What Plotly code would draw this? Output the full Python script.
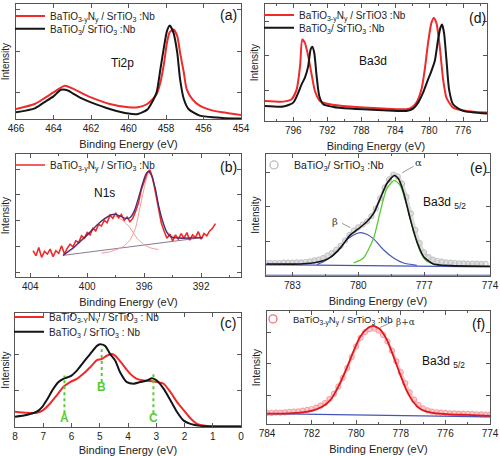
import plotly.graph_objects as go

W, H = 500, 456
FONT = "Arial, 'Liberation Sans', sans-serif"
RED = "#ee2a2a"
BLACK = "#151515"
FRAME = "#555555"
GREEN = "#55cc33"
BLUE = "#4455bb"

# ---------------- data ----------------
# (a) Ti2p
ti_black_x = [466, 465, 464.5, 464, 463.6, 463.2, 463, 462.5, 462, 461, 460, 459.5, 459, 458.7, 458.5,
              458.3, 458.1, 457.95, 457.8, 457.6, 457.4, 457.25, 457.05, 456.8, 456.2, 455, 454]
ti_black_y = [21, 33, 51, 69, 89, 86, 79, 63, 51, 31, 17, 16, 29, 56, 81,
              151, 221, 266, 283, 261, 201, 121, 61, 31, 11, 4, 2]
ti_red_x = [466, 465, 464.5, 464, 463.4, 463, 462.5, 462, 461, 460, 459.5, 459, 458.7, 458.5,
            458.3, 458.1, 457.95, 457.8, 457.6, 457.4, 457.25, 457.05, 456.9, 456.6, 456.2, 455.5, 455, 454]
ti_red_y = [31, 46, 63, 81, 101, 93, 79, 66, 46, 36, 36, 46, 61, 76,
            111, 171, 231, 263, 271, 251, 201, 141, 91, 61, 41, 26, 21, 13]

# (b) N1s
n_x = [403.8, 403.6, 403.4, 403.2, 403.0, 402.8, 402.6, 402.4, 402.2, 402.0, 401.8, 401.6, 401.4,
       401.2, 401.0, 400.8, 400.6, 400.4, 400.2, 400.0, 399.8, 399.6, 399.4, 399.2, 399.0, 398.8,
       398.6, 398.4, 398.2, 398.0, 397.8, 397.6, 397.4, 397.2, 397.0, 396.8, 396.6, 396.4, 396.2,
       396.0, 395.8, 395.6, 395.4, 395.2, 395.0, 394.8, 394.6, 394.4, 394.2, 394.0, 393.8, 393.6,
       393.4, 393.2, 393.0, 392.8, 392.6, 392.4, 392.2, 392.0, 391.8, 391.6, 391.4, 391.2, 391.0]
n_y = [80, 65, 90, 60, 78, 70, 85, 62, 80, 72, 95, 70, 88, 100, 92, 110, 105, 125, 118, 135,
       128, 148, 140, 160, 155, 172, 165, 188, 178, 195, 180, 190, 172, 182, 168, 178, 200, 225,
       265, 290, 315, 325, 300, 255, 205, 165, 140, 118, 130, 110, 128, 115, 132, 118, 135, 112,
       128, 120, 138, 115, 132, 125, 140, 148, 162]
n_bg_x = [401.7, 391.9]
n_bg_y = [66, 120]
n_broad_x = [401.7, 401.0, 400.5, 400.0, 399.5, 399.0, 398.5, 398.2, 398.0, 397.5, 397.0, 396.5, 396.0, 395.5, 395.0]
n_broad_y = [66, 85, 105, 125, 148, 168, 182, 186, 185, 172, 150, 118, 98, 88, 84]
n_narrow_x = [399.0, 398.5, 397.5, 397.0, 396.6, 396.3, 396.0, 395.8, 395.65, 395.5, 395.2, 395.0, 394.7, 394.4, 394.0, 393.0, 392.0]
n_narrow_y = [73, 76, 92, 112, 150, 210, 270, 305, 315, 305, 260, 215, 165, 138, 125, 118, 120]
n_sum_x = [401.7, 401.0, 400.5, 400.0, 399.5, 399.0, 398.5, 398.2, 398.0, 397.7, 397.3, 397.0, 396.7,
           396.4, 396.1, 395.9, 395.7, 395.5, 395.2, 395.0, 394.7, 394.4, 394.1, 393.5, 392.5, 391.9]
n_sum_y = [66, 88, 108, 128, 150, 170, 185, 190, 190, 185, 178, 180, 200,
           240, 285, 310, 320, 310, 265, 220, 170, 135, 122, 118, 119, 120]

# (c) valence band
vb_black_x = [8.0, 7.59, 7.23, 7.05, 6.88, 6.64, 6.46, 6.29, 6.05, 5.81, 5.58, 5.34, 5.10, 4.99, 4.81, 4.63,
              4.45, 4.28, 4.04, 3.80, 3.57, 3.33, 3.15, 2.98, 2.74, 2.50, 2.27, 2.03, 1.79, 1.44, 0.85, 0.0]
vb_black_y = [32, 37, 47, 60, 82, 117, 137, 147, 154, 172, 197, 222, 247, 252, 247, 222,
              202, 167, 137, 132, 137, 142, 149, 142, 117, 82, 47, 20, 10, 4, 2, 2]
vb_red_x = [8.0, 7.59, 7.23, 7.0, 6.76, 6.52, 6.29, 6.05, 5.81, 5.58, 5.34, 5.10, 4.93, 4.75, 4.57,
            4.39, 4.16, 3.92, 3.69, 3.45, 3.21, 2.98, 2.74, 2.50, 2.27, 2.03, 1.79, 1.56, 1.20, 0.0]
vb_red_y = [47, 44, 44, 52, 72, 97, 122, 137, 147, 162, 182, 204, 207, 217, 222,
            212, 187, 162, 147, 142, 140, 137, 132, 107, 77, 52, 27, 10, 4, 2]
vb_marks = ["A", "B", "C"]
vb_mark_x = [6.25, 4.93, 3.1]
vb_mark_lo = [42, 137, 42]
vb_mark_hi = [157, 237, 164]
vb_mark_label_y = [28, 122, 27]

# (d) Ba3d
ba_red_x = [799.33, 797.18, 796.2, 795.6, 795.2, 794.94, 794.63, 794.24, 793.84, 793.45, 792.86, 791.69,
            789.33, 785.41, 782.67, 782.08, 781.49, 780.9, 780.51, 780.12, 779.73, 779.45, 779.14,
            778.75, 778.35, 777.96, 777.18, 775.6, 773.18]
ba_red_y = [61, 59, 66, 96, 166, 246, 236, 196, 141, 91, 61, 51, 44, 38, 36, 41, 56, 96, 156, 236,
            296, 311, 296, 226, 126, 71, 41, 31, 26]
ba_black_x = [799.33, 797.18, 796.0, 795.41, 795.02, 794.63, 794.24, 793.96, 793.76, 793.53, 793.25,
              792.94, 792.47, 791.29, 789.33, 785.41, 782.67, 781.88, 781.29, 780.71, 780.12, 779.73,
              779.33, 778.94, 778.67, 778.47, 778.24, 777.96, 777.65, 777.18, 776.0, 773.18]
ba_black_y = [46, 44, 56, 86, 111, 131, 166, 216, 224, 206, 136, 76, 51, 43, 38, 33, 31, 38, 56, 86,
              126, 151, 181, 246, 281, 291, 266, 186, 96, 51, 31, 23]

# (e) Ba3d5/2 BaTiO3 fit
e_data_x = [784.2, 784.0, 783.8, 783.6, 783.4, 783.2, 783.0, 782.8, 782.6, 782.4, 782.2, 782.0, 781.8,
            781.6, 781.4, 781.2, 781.0, 780.8, 780.6, 780.4, 780.2, 780.0, 779.8, 779.6, 779.4, 779.2,
            779.0, 778.8, 778.6, 778.4, 778.2, 778.0, 777.8, 777.6, 777.4, 777.2, 777.0, 776.8, 776.6,
            776.4, 776.2, 776.0, 775.8, 775.6, 775.4, 775.2, 775.0, 774.8, 774.6, 774.4, 774.2]
e_data_y = [40, 40, 40, 40, 41, 41, 41, 42, 42, 43, 45, 48, 50, 55, 62, 70, 80, 92, 108, 125,
            138, 148, 156, 166, 182, 205, 236, 268, 293, 308, 302, 280, 240, 190, 140, 100, 72, 58, 50, 46,
            44, 42, 41, 40, 39, 39, 38, 38, 38, 37, 37]
e_sum_x = [784.18, 782.64, 781.88, 781.27, 780.82, 780.36, 780.06, 779.61, 779.3, 779.0, 778.7, 778.36,
           778.17, 777.94, 777.64, 777.33, 777.03, 776.58, 775.82, 774.0]
e_sum_y = [37, 37, 42, 57, 85, 125, 140, 165, 190, 235, 280, 305, 295, 255, 175, 105, 60, 37, 32, 30]
e_alpha_x = [780.21, 779.76, 779.3, 779.0, 778.7, 778.36, 778.09, 777.79, 777.48, 777.18, 776.88, 776.42]
e_alpha_y = [40, 55, 115, 195, 265, 290, 275, 215, 135, 75, 45, 35]
e_beta_x = [781.88, 781.42, 780.97, 780.52, 780.21, 779.91, 779.61, 779.3, 778.85, 778.39, 777.94, 777.33]
e_beta_y = [35, 50, 75, 110, 125, 132, 127, 113, 80, 55, 40, 33]
e_bg_x = [784.2, 774.0]
e_bg_y = [35, 28]
e_zero_y = [3, 3]

# (f) Ba3d5/2 BaTiO3-yNy fit
f_data_x = [784.0, 783.8, 783.6, 783.4, 783.2, 783.0, 782.8, 782.6, 782.4, 782.2, 782.0, 781.8, 781.6,
            781.4, 781.2, 781.0, 780.8, 780.6, 780.4, 780.2, 780.0, 779.8, 779.6, 779.4, 779.2, 779.0,
            778.8, 778.6, 778.4, 778.2, 778.0, 777.8, 777.6, 777.4, 777.2, 777.0, 776.8, 776.6, 776.4,
            776.2, 776.0, 775.8, 775.6, 775.4, 775.2, 775.0, 774.8, 774.6, 774.4, 774.2, 774.0]
f_data_y = [34, 34, 35, 35, 36, 37, 38, 39, 41, 43, 46, 50, 56, 64, 76, 92, 114, 140, 170, 203,
            235, 261, 278, 287, 289, 283, 270, 250, 222, 190, 157, 124, 96, 74, 58, 48, 42, 38, 36, 35,
            34, 33, 33, 32, 32, 31, 31, 30, 30, 29, 29]
f_sum_x = [784.0, 783.28, 782.53, 781.93, 781.49, 781.11, 780.74, 780.44, 780.14, 779.84, 779.54, 779.24,
           778.94, 778.64, 778.34, 778.04, 777.74, 777.44, 777.14, 776.69, 775.8, 775.05, 774.0]
f_sum_y = [32, 32, 35, 42, 54, 77, 122, 167, 217, 262, 287, 297, 287, 257, 207, 152, 102, 67, 47, 36, 30, 28, 25]
f_bg_x = [784.0, 774.0]
f_bg_y = [32, 22]

LEG_A1 = "BaTiO<sub>3-y</sub>N<sub>y</sub> / SrTiO<sub>3</sub> :Nb"
LEG_A2 = "BaTiO<sub>3</sub>/ SrTiO<sub>3</sub> :Nb"
LEG_C1 = "BaTiO<sub>3-Y</sub>N<sub>Y</sub> / SrTiO<sub>3</sub> : Nb"
LEG_C2 = "BaTiO<sub>3</sub> / SrTiO<sub>3</sub> : Nb"
LEG_D1 = "BaTiO<sub>3-y</sub>N<sub>y</sub> / SrTiO3 :Nb"

# ---------------- layout geometry (pixels) ----------------
panels = {
    # name: (left, right, top, bottom)
    "a": (16, 241, 1, 117),
    "b": (16, 241, 152, 276),
    "c": (15, 241, 312, 427),
    "d": (265, 487, 1, 119),
    "e": (266, 490, 152, 275),
    "f": (267, 490, 310, 424),
}
axis_id = {"a": "", "b": "2", "c": "3", "d": "4", "e": "5", "f": "6"}

def px(x):
    return x / W

def py(y):
    return 1 - y / H

fig = go.Figure()

def add(panel, x, y, **kw):
    i = axis_id[panel]
    fig.add_trace(go.Scatter(x=x, y=y, xaxis="x" + i, yaxis="y" + i, **kw))

spl = dict(shape="spline", smoothing=0.6)

# (a)
add("a", ti_red_x, ti_red_y, mode="lines", name=LEG_A1, legend="legend",
    line=dict(color=RED, width=2, **spl))
add("a", ti_black_x, ti_black_y, mode="lines", name=LEG_A2, legend="legend2",
    line=dict(color=BLACK, width=2, **spl))

# (b)
add("b", n_bg_x, n_bg_y, mode="lines", showlegend=False, line=dict(color="#8a7a90", width=1))
add("b", n_broad_x, n_broad_y, mode="lines", showlegend=False, line=dict(color="#f49a9a", width=1, **spl))
add("b", n_narrow_x, n_narrow_y, mode="lines", showlegend=False, line=dict(color="#f49a9a", width=1, **spl))
add("b", n_x, n_y, mode="lines", name=LEG_A1, legend="legend3", line=dict(color=RED, width=1.6))
add("b", n_sum_x, n_sum_y, mode="lines", showlegend=False, line=dict(color="#4a2a70", width=1.3, **spl))

# (c)
add("c", vb_red_x, vb_red_y, mode="lines", name=LEG_C1, legend="legend4",
    line=dict(color=RED, width=2, **spl))
add("c", vb_black_x, vb_black_y, mode="lines", name=LEG_C2, legend="legend5",
    line=dict(color=BLACK, width=2, **spl))
for k in range(len(vb_marks)):
    add("c", [vb_mark_x[k], vb_mark_x[k]], [vb_mark_lo[k], vb_mark_hi[k]], mode="lines",
        showlegend=False, line=dict(color=GREEN, width=2, dash="dot"))
    fig.add_annotation(x=vb_mark_x[k], y=vb_mark_label_y[k], xref="x3", yref="y3",
                       text="<b>%s</b>" % vb_marks[k], showarrow=False,
                       font=dict(size=12, color=GREEN, family=FONT))

# (d)
add("d", ba_red_x, ba_red_y, mode="lines", name=LEG_D1, legend="legend6",
    line=dict(color=RED, width=2, **spl))
add("d", ba_black_x, ba_black_y, mode="lines", name=LEG_A2, legend="legend7",
    line=dict(color=BLACK, width=2, **spl))

# (e)
add("e", e_data_x, e_data_y, mode="lines+markers", showlegend=False,
    line=dict(color="#dcdcdc", width=3, **spl),
    marker=dict(symbol="circle-open", size=5, color="#c4c4c4", line=dict(width=1.2)))
add("e", [None], [None], mode="markers", name=LEG_A2, legend="legend8",
    marker=dict(symbol="circle-open", size=8, color="#bbbbbb", line=dict(width=1.3)))
add("e", e_bg_x, e_bg_y, mode="lines", showlegend=False, line=dict(color=BLUE, width=1.2))
add("e", e_bg_x, e_zero_y, mode="lines", showlegend=False, line=dict(color=BLUE, width=1))
add("e", e_beta_x, e_beta_y, mode="lines", showlegend=False, line=dict(color=BLUE, width=1.2, **spl))
add("e", e_alpha_x, e_alpha_y, mode="lines", showlegend=False, line=dict(color=GREEN, width=1.3, **spl))
add("e", e_sum_x, e_sum_y, mode="lines", showlegend=False, line=dict(color=BLACK, width=1.6, **spl))

# (f)
add("f", f_data_x, f_data_y, mode="lines+markers", showlegend=False,
    line=dict(color="#f8c8cc", width=3, **spl),
    marker=dict(symbol="circle-open", size=5, color="#f4a0a8", line=dict(width=1.2)))
add("f", [None], [None], mode="markers", name=LEG_A1, legend="legend9",
    marker=dict(symbol="circle-open", size=8, color="#f07080", line=dict(width=1.3)))
add("f", f_bg_x, f_bg_y, mode="lines", showlegend=False, line=dict(color=BLUE, width=1.2))
add("f", f_sum_x, f_sum_y, mode="lines", showlegend=False, line=dict(color="#e01818", width=1.8, **spl))

# ---------------- axes ----------------
xranges = {"a": [466, 454], "b": [405, 389.2], "c": [8, 0], "d": [799.33, 773.18],
           "e": [784.2, 774.0], "f": [784, 774]}
xdt = {"a": 2, "b": 4, "c": 1, "d": 4, "e": 3, "f": 2}
xminor = {"b": 2, "d": 2, "e": 1.5, "f": 1}
yranges = {"a": [0, 348], "b": [0, 373], "c": [0, 347], "d": [0, 353], "e": [0, 370], "f": [0, 342]}
yticks = {"a": (81, 125), "b": (15, 78), "c": (2, 110), "d": (-9.5, 103.5), "e": (0, 105), "f": (-8, 95)}

common = dict(showline=True, linecolor=FRAME, linewidth=1, mirror="ticks", ticks="inside",
              ticklen=4, tickcolor=FRAME, showgrid=False, zeroline=False, automargin=False)
for p, (l, r, t, b) in panels.items():
    i = axis_id[p]
    xa = dict(common, domain=[px(l), px(r)], range=xranges[p], dtick=xdt[p], tick0=0,
              anchor="y" + i, tickfont=dict(size=10, color="#222", family=FONT),
              title=dict(text="Binding Energy (eV)", standoff=7,
                         font=dict(size=11, color="#222", family=FONT)))
    if p in xminor:
        xa["minor"] = dict(dtick=xminor[p], ticks="inside", ticklen=2, tickcolor=FRAME)
    ya = dict(common, domain=[py(b), py(t)], range=yranges[p], tick0=yticks[p][0], dtick=yticks[p][1],
              anchor="x" + i, showticklabels=False,
              title=dict(text="Intensity", standoff=3, font=dict(size=10, color="#222", family=FONT)))
    fig.layout["xaxis" + i] = xa
    fig.layout["yaxis" + i] = ya

# ---------------- legends ----------------
def leg(xp, yp, size=10):
    return dict(x=px(xp), y=py(yp), xanchor="left", yanchor="middle", bgcolor="rgba(0,0,0,0)",
                borderwidth=0, font=dict(size=size, color="#222", family=FONT), itemclick=False)

fig.update_layout(
    legend=leg(10, 13), legend2=leg(10, 26), legend3=leg(10, 163),
    legend4=leg(9, 316), legend5=leg(9, 331), legend6=leg(259, 12), legend7=leg(259, 25),
    legend8=leg(254, 163, 10.5), legend9=leg(253, 318, 9.5),
)

# ---------------- text labels ----------------
def label(text, xp, yp, size=14, color="#111", xanchor="center"):
    fig.add_annotation(x=px(xp), y=py(yp), xref="paper", yref="paper", text=text, showarrow=False,
                       xanchor=xanchor, yanchor="middle", font=dict(size=size, color=color, family=FONT))

label("(a)", 228, 12)
label("(b)", 228, 165)
label("(c)", 228, 322)
label("(d)", 477, 15)
label("(e)", 478, 166)
label("(f)", 478, 323)
label("Ti2p", 122, 60, size=12)
label("N1s", 104, 191, size=12)
label("Ba3d", 373, 58, size=12)
label("Ba3d <sub>5/2</sub>", 421, 201, size=12, xanchor="left")
label("Ba3d <sub>5/2</sub>", 420, 361, size=12, xanchor="left")

# greek peak labels with leaders
fig.add_annotation(x=777.26, y=345, xref="x5", yref="y5", text="α", showarrow=False,
                   font=dict(size=10, color="#333", family="DejaVu Serif"))
fig.add_annotation(x=781.05, y=165, xref="x5", yref="y5", text="β", showarrow=False,
                   font=dict(size=10, color="#333", family="DejaVu Serif"))
fig.add_annotation(x=777.8, y=310, xref="x6", yref="y6", text="β+α", showarrow=False,
                   font=dict(size=9, color="#333", family="DejaVu Serif"))
fig.add_shape(type="line", xref="x5", yref="y5", x0=778.0, y0=313, x1=777.48, y1=333,
              line=dict(color="#999", width=1))
fig.add_shape(type="line", xref="x5", yref="y5", x0=780.74, y0=160, x1=780.36, y1=147,
              line=dict(color="#999", width=1))
fig.add_shape(type="line", xref="x6", yref="y6", x0=778.94, y0=292, x1=778.35, y1=310,
              line=dict(color="#999", width=1))

fig.update_layout(width=W, height=H, margin=dict(l=0, r=0, t=0, b=0),
                  paper_bgcolor="white", plot_bgcolor="white",
                  font=dict(family=FONT, size=10, color="#222"))

fig.write_html("out.html", config={"displayModeBar": False},
               post_script="document.body.style.margin='0';")
